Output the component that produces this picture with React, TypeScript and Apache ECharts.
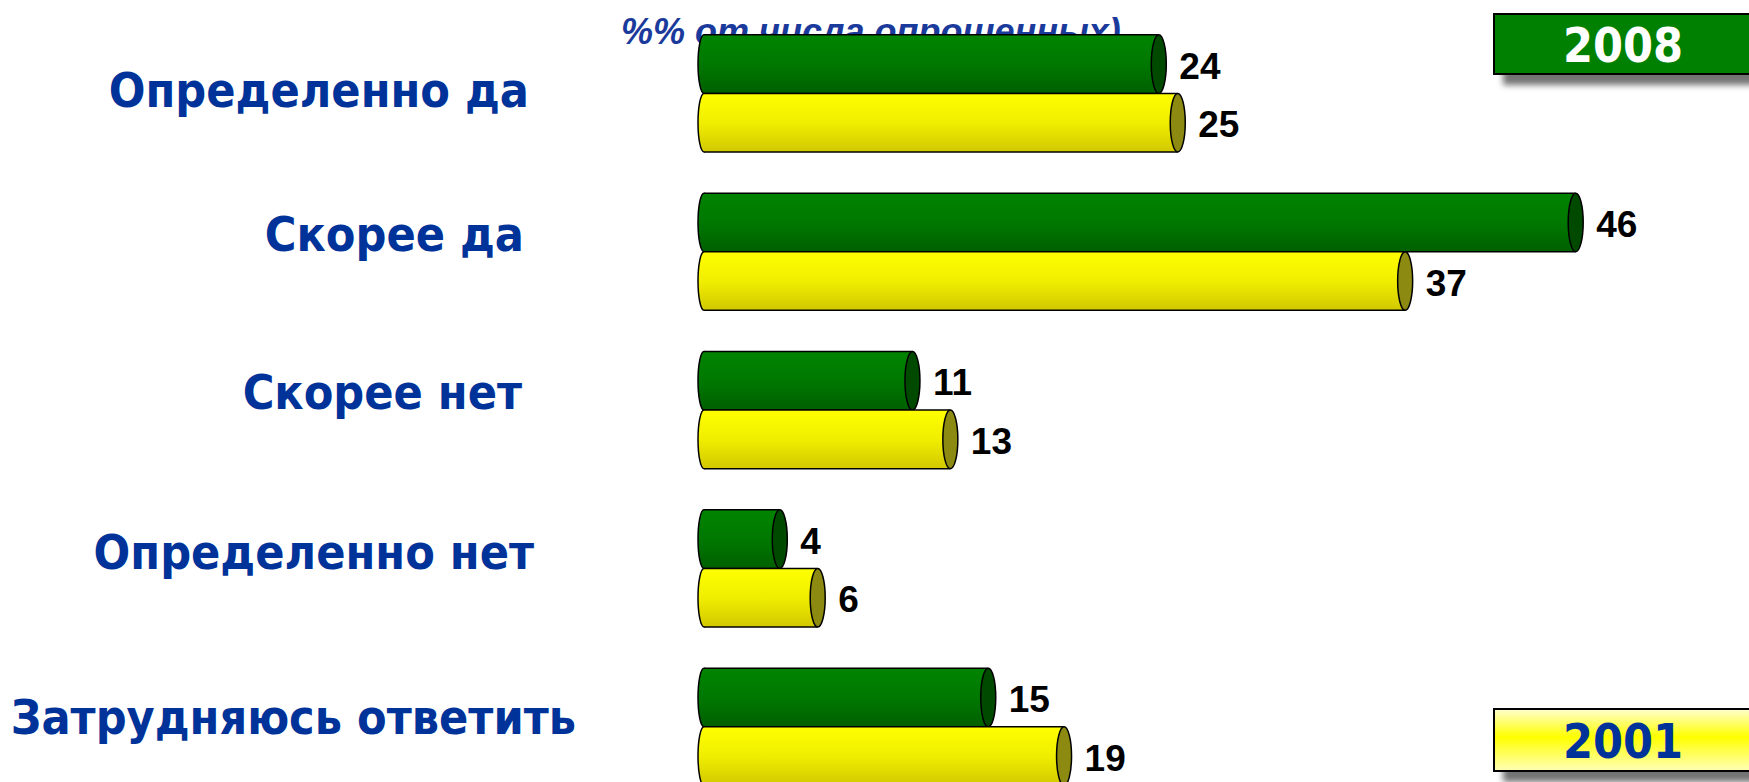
import React, { useEffect, useRef } from "react";
import * as echarts from "echarts";

const categories = ["Определенно да", "Скорее да", "Скорее нет", "Определенно нет", "Затрудняюсь ответить"];
const values2008 = [24, 46, 11, 4, 15];
const values2001 = [25, 37, 13, 6, 19];
const seriesNames = ["2008", "2001"];
const subtitle = "%% от числа опрошенных)";

const LABEL_FONT = '"DejaVu Sans Condensed", "DejaVu Sans", Verdana, sans-serif';

export default function App() {
  const ref = useRef<HTMLDivElement>(null);
  useEffect(() => {
    const chart = echarts.init(ref.current!, null, { renderer: "svg" });
    const BAND_FRAC = 0.37;
    const makeRender = (pos: number, stops: any[], capColor: string) => (params: any, api: any) => {
      const cat = api.value(0);
      const v = api.value(1);
      const p0 = api.coord([0, cat]);
      const p1 = api.coord([v, cat]);
      const band = api.size([0, 1])[1];
      const h = band * BAND_FRAC;
      const yTop = pos === 0 ? p0[1] - h : p0[1];
      const yMid = yTop + h / 2;
      const g1 = new echarts.graphic.LinearGradient(0, 0, 0, 1, stops);
      const g2 = new echarts.graphic.LinearGradient(0, 0, 0, 1, stops);
      return {
        type: "group",
        children: [
          { type: "ellipse", shape: { cx: p0[0], cy: yMid, rx: 6, ry: h / 2 }, style: { fill: g1, stroke: "#000", lineWidth: 1.5 } },
          { type: "rect", shape: { x: p0[0], y: yTop, width: p1[0] - p0[0], height: h }, style: { fill: g2 } },
          { type: "line", shape: { x1: p0[0], y1: yTop, x2: p1[0], y2: yTop }, style: { stroke: "#000", lineWidth: 1.5 } },
          { type: "line", shape: { x1: p0[0], y1: yTop + h, x2: p1[0], y2: yTop + h }, style: { stroke: "#000", lineWidth: 1.5 } },
          { type: "ellipse", shape: { cx: p1[0], cy: yMid, rx: 7.5, ry: h / 2 }, style: { fill: capColor, stroke: "#000", lineWidth: 1.5 } },
          {
            type: "text",
            x: p1[0] + 7.5 + 13,
            y: yMid + 2,
            style: { text: String(v), fill: "#000", font: 'bold 37px "Liberation Sans", Arial, sans-serif', verticalAlign: "middle", align: "left" },
          },
        ],
      };
    };

    // per-label [right, bottom] paddings to mimic the original's hand placement
    const pads = [
      [47, 7],
      [52, 36],
      [54, 36],
      [42, 33],
      [0, 20],
    ];
    const rich: any = {};
    pads.forEach((p, i) => {
      rich["c" + i] = { padding: [0, p[0], p[1], 0], color: "#003399", fontWeight: "bold", fontSize: 48, fontFamily: LABEL_FONT };
    });

    chart.setOption({
      animation: false,
      backgroundColor: "#ffffff",
      grid: { left: 704, right: 97.5, top: 14.2, bottom: 0 },
      xAxis: { type: "value", min: 0, max: 50, show: false },
      yAxis: {
        type: "category",
        data: categories,
        inverse: true,
        axisLine: { show: false },
        axisTick: { show: false },
        splitLine: { show: false },
        axisLabel: {
          margin: 128,
          formatter: (val: string, idx: number) => `{c${idx}|${val}}`,
          rich,
          color: "#003399",
          fontWeight: "bold",
          fontSize: 48,
          fontFamily: LABEL_FONT,
        },
      },
      graphic: [
        {
          type: "text",
          z: 0,
          x: 621,
          y: 31,
          style: { text: subtitle, fill: "#1a3a9c", font: 'italic bold 36px "Liberation Sans", Arial, sans-serif', verticalAlign: "middle", align: "left" },
        },
        {
          type: "rect",
          z: 10,
          shape: { x: 1494, y: 14, width: 280, height: 60 },
          style: { fill: "#008000", stroke: "#000", lineWidth: 2, shadowColor: "rgba(0,0,0,0.55)", shadowBlur: 6, shadowOffsetX: 10, shadowOffsetY: 10 },
        },
        {
          type: "text",
          z: 11,
          x: 1623,
          y: 45,
          style: { text: seriesNames[0], fill: "#ffffff", font: `bold 48px ${LABEL_FONT}`, align: "center", verticalAlign: "middle" },
        },
        {
          type: "rect",
          z: 10,
          shape: { x: 1494, y: 709, width: 280, height: 62 },
          style: {
            fill: new echarts.graphic.LinearGradient(0, 0, 0, 1, [
              { offset: 0, color: "#ffffd0" },
              { offset: 0.45, color: "#ffff00" },
              { offset: 1, color: "#ffffb8" },
            ]),
            stroke: "#000",
            lineWidth: 2,
            shadowColor: "rgba(0,0,0,0.55)",
            shadowBlur: 6,
            shadowOffsetX: 10,
            shadowOffsetY: 10,
          },
        },
        {
          type: "text",
          z: 11,
          x: 1623,
          y: 741,
          style: { text: seriesNames[1], fill: "#003399", font: `bold 48px ${LABEL_FONT}`, align: "center", verticalAlign: "middle" },
        },
      ],
      series: [
        {
          type: "custom",
          name: seriesNames[0],
          z: 2,
          encode: { x: 1, y: 0 },
          data: values2008.map((v, i) => [i, v]),
          renderItem: makeRender(
            0,
            [
              { offset: 0, color: "#008400" },
              { offset: 0.5, color: "#007800" },
              { offset: 1, color: "#006000" },
            ],
            "#004a00"
          ),
        },
        {
          type: "custom",
          name: seriesNames[1],
          z: 3,
          encode: { x: 1, y: 0 },
          data: values2001.map((v, i) => [i, v]),
          renderItem: makeRender(
            1,
            [
              { offset: 0, color: "#ffff00" },
              { offset: 0.5, color: "#f0ee00" },
              { offset: 1, color: "#d2c800" },
            ],
            "#8c8a10"
          ),
        },
      ],
    });
    return () => chart.dispose();
  }, []);
  return (
    <div style={{ position: "absolute", left: 0, top: 0, width: 1749, height: 782, overflow: "hidden" }}>
      <div ref={ref} style={{ width: 1749, height: 806 }} />
    </div>
  );
}
